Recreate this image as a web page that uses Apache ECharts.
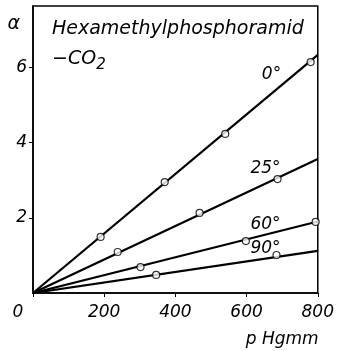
<!DOCTYPE html>
<html><head><meta charset="utf-8">
<script src="https://cdn.jsdelivr.net/npm/echarts@6/dist/echarts.min.js"></script>
<style>html,body{margin:0;padding:0;background:#fff}#c{width:337px;height:351px}</style>
</head><body><div id="c"></div>
<script>
// Absorption coefficient α of CO2 in hexamethylphosphoramide vs. pressure
const temps = ['0°', '25°', '60°', '90°'];
// measured points (pressure in mm Hg, α)
const p0 = [190, 370, 540, 780];  const a0 = [1.49, 2.95, 4.23, 6.14];
const p25 = [238, 468, 687];      const a25 = [1.09, 2.13, 3.03];
const p60 = [302, 598, 794];      const a60 = [0.69, 1.38, 1.89];
const p90 = [346, 684];           const a90 = [0.48, 1.01];
// fitted straight lines through the origin: α at 800 mm Hg
const fitEnd = [6.33, 3.56, 1.90, 1.12];
// where each temperature label sits (data coordinates)
const labelAt = [[670, 5.82], [653, 3.32], [653, 1.81], [653, 1.17]];
const xTicks = [0, 200, 400, 600, 800];
const yTicks = [2, 4, 6];

const FONT = 'DejaVu Sans';
const pts = [[p0, a0], [p25, a25], [p60, a60], [p90, a90]];

const series = [];
temps.forEach((t, i) => {
  series.push({
    type: 'line',
    data: [[0, 0], [800, fitEnd[i]]],
    showSymbol: false,
    lineStyle: { color: '#000', width: 2.2 },
    silent: true,
    z: 2,
    markPoint: {
      symbol: 'circle', symbolSize: 1,
      itemStyle: { color: 'transparent' },
      label: { show: true, position: 'inside', formatter: t, color: '#000',
               fontStyle: 'italic', fontSize: 17, fontFamily: FONT },
      data: [{ coord: labelAt[i] }]
    }
  });
  series.push({
    type: 'scatter',
    data: pts[i][0].map((p, k) => [p, pts[i][1][k]]),
    symbol: 'circle', symbolSize: 7,
    itemStyle: { color: '#fff', borderColor: '#000', borderWidth: 1.2 },
    z: 3
  });
});

const chart = echarts.init(document.getElementById('c'));
chart.setOption({
  animation: false,
  backgroundColor: '#fff',
  grid: { left: 33, right: 14, top: 6, bottom: 58, show: true,
          borderColor: '#000', borderWidth: 1.5 },
  xAxis: {
    type: 'value', min: 0, max: 800, interval: 200,
    name: 'p Hgmm', nameLocation: 'end', nameGap: -72,
    nameTextStyle: { color: '#000', fontStyle: 'italic', fontSize: 17, fontFamily: FONT,
                     verticalAlign: 'top', padding: [38, 0, 0, 0] },
    axisLine: { lineStyle: { color: '#000', width: 1.5 } },
    axisTick: { show: true, length: 4, lineStyle: { color: '#000' } },
    splitLine: { show: false },
    axisLabel: {
      color: '#000', fontStyle: 'italic', fontSize: 17, fontFamily: FONT, margin: 11,
      customValues: xTicks,
      formatter: v => v === 0 ? '{z|0}' : String(v),
      rich: { z: { padding: [0, 30, 0, 0], color: '#000', fontStyle: 'italic',
                   fontSize: 17, fontFamily: FONT } }
    }
  },
  yAxis: {
    type: 'value', min: 0, max: 7.63,
    name: 'α', nameLocation: 'end', nameGap: -28,
    nameTextStyle: { color: '#000', fontStyle: 'italic', fontSize: 19, fontFamily: FONT,
                     align: 'right', padding: [0, 13, 0, 0] },
    axisLine: { lineStyle: { color: '#000', width: 1.5 } },
    axisTick: { show: true, length: 4, customValues: yTicks, lineStyle: { color: '#000' } },
    splitLine: { show: false },
    axisLabel: { color: '#000', fontStyle: 'italic', fontSize: 17, fontFamily: FONT,
                 margin: 6, customValues: yTicks }
  },
  graphic: [
    { type: 'text', left: 52, top: 20,
      style: { text: 'Hexamethylphosphoramid', fill: '#000',
               font: 'italic 19px "' + FONT + '"' } },
    { type: 'text', left: 52, top: 50,
      style: { text: '−CO{s|2}', fill: '#000', font: 'italic 19px "' + FONT + '"',
               rich: { s: { font: 'italic 15px "' + FONT + '"', padding: [12, 0, 0, 0],
                            verticalAlign: 'bottom' } } } }
  ],
  series: series
});
</script>
</body></html>
